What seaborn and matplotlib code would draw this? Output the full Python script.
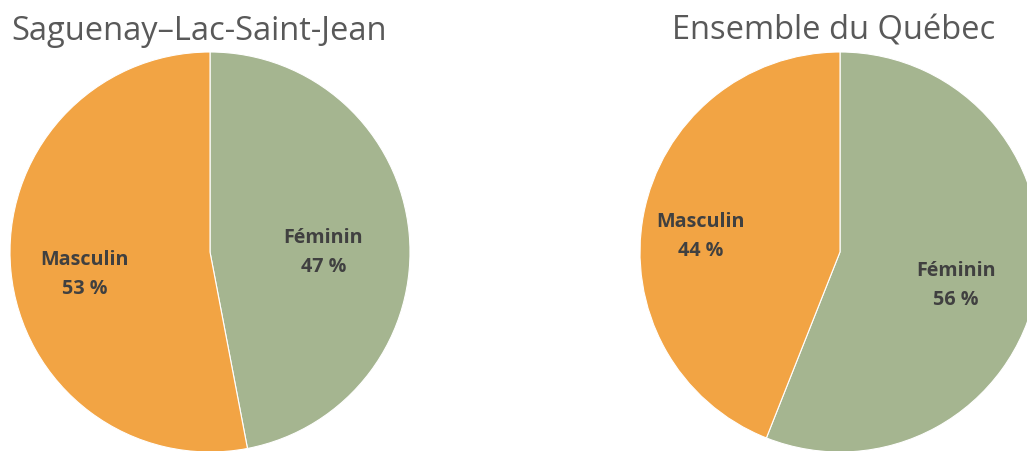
import matplotlib
matplotlib.use("Agg")
import matplotlib.pyplot as plt
import seaborn as sns

# Data
regions = ["Saguenay–Lac-Saint-Jean", "Ensemble du Québec"]
sexes = ["Féminin", "Masculin"]
feminin = [47, 56]
masculin = [53, 44]

sns.set_theme(style="white")
plt.rcParams['font.family'] = ['Open Sans', 'DejaVu Sans']
colors = ["#A5B590", "#F2A444"]

W, H = 1027, 452
fig = plt.figure(figsize=(W / 100, H / 100), dpi=100)

# pie boxes in pixels: left, top, size
boxes = [(10, 53, 400), (640, 53, 400)]
title_x = [199, 834]
label_dist = [(0.57, 0.63), (0.59, 0.71)]

for i, region in enumerate(regions):
    left, top, size = boxes[i]
    ax = fig.add_axes([left / W, (H - top - size) / H, size / W, size / H])
    vals = [feminin[i], masculin[i]]
    labels = [f"{s}\n{v} %" for s, v in zip(sexes, vals)]
    wedges, texts = ax.pie(vals, colors=colors, startangle=90, counterclock=False,
                           labels=labels, labeldistance=0.6,
                           wedgeprops=dict(linewidth=0.8, edgecolor="white"),
                           textprops=dict(fontsize=14.2, fontweight="bold", color="#404040",
                                          linespacing=1.6))
    for t, d in zip(texts, label_dist[i]):
        x, y = t.get_position()
        r = (x ** 2 + y ** 2) ** 0.5
        t.set_position((x / r * d, y / r * d - 0.05))
        t.set_ha("center")
        t.set_va("center")
    ax.set_xlim(-1, 1)
    ax.set_ylim(-1, 1)
    ax.set_aspect("equal")
    ax.axis("off")
    fig.text(title_x[i] / W, 1 - 31 / H, region, ha="center", va="center",
             fontsize=23.5, color="#595959")

plt.savefig("out.png", dpi=100)
